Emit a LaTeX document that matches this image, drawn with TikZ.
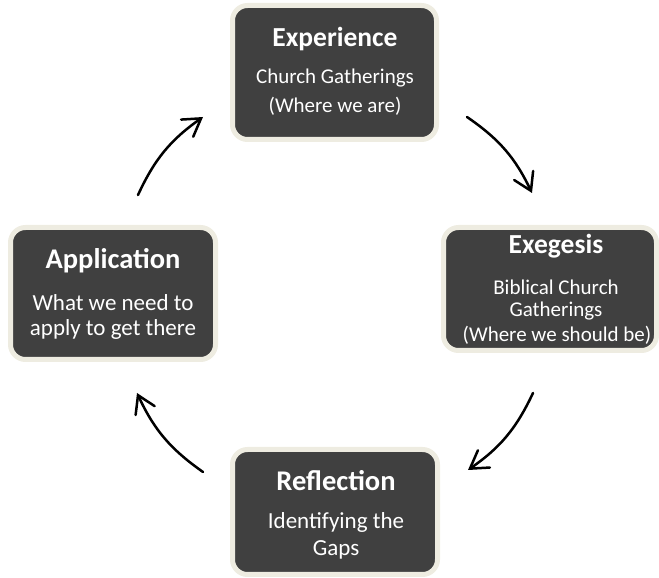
\documentclass[tikz,border=0pt]{standalone}
\usepackage{fontspec}
\setmainfont{Carlito}
\usetikzlibrary{arrows.meta}
\definecolor{boxfill}{HTML}{404040}
\definecolor{boxrim}{HTML}{EEECE1}
\tikzset{
  stage/.style={rectangle, rounded corners=15pt, fill=boxfill, draw=boxrim,
    line width=5pt, inner sep=0pt},
  title/.style={anchor=base, text=white, font=\bfseries\fontsize{#1}{#1}\selectfont},
  sub/.style={anchor=base, text=white, font=\fontsize{#1}{#1}\selectfont},
  cycle/.style={line width=2.5pt, line cap=round,
    -{Straight Barb[length=17pt, width=21pt, line cap=round, line join=miter]}},
}
\begin{document}
\begin{tikzpicture}[x=1pt, y=1pt]
\useasboundingbox (0,0) rectangle (659,578);

% the four stages
\node[stage, minimum width=204pt, minimum height=134pt] (exp) at (334.5,505.5) {};
\node[stage, minimum width=213pt, minimum height=123pt] (exg) at (550,289) {};
\node[stage, minimum width=205pt, minimum height=125pt] (ref) at (335,66) {};
\node[stage, minimum width=205pt, minimum height=132pt] (app) at (113,284.5) {};

% stage texts
\node[title=27.5] (exp-t) at (335,531) {Experience};
\node[sub=21] (exp-a) at (335,494) {Church Gatherings};
\node[sub=21] (exp-b) at (335,465) {(Where we are)};

\node[title=27.5] (exg-t) at (556,324) {Exegesis};
\node[sub=21] (exg-a) at (556,283) {Biblical Church};
\node[sub=21] (exg-b) at (556,261) {Gatherings};
\node[sub=21] (exg-c) at (557,236) {(Where we should be)};

\node[title=28.5] (ref-t) at (336,87) {Reflection};
\node[sub=23] (ref-a) at (336,49) {Identifying the};
\node[sub=23] (ref-b) at (336,22) {Gaps};

\node[title=28.5] (app-t) at (113,309) {Application};
\node[sub=23] (app-a) at (113,267) {What we need to};
\node[sub=23] (app-b) at (113,242) {apply to get there};

% arrow ends around the cycle
\coordinate (c1s) at (467,461);
\coordinate (c1e) at (532,385);
\coordinate (c2s) at (533,185);
\coordinate (c2e) at (468,108);
\coordinate (c3s) at (203,106);
\coordinate (c3e) at (137,185);
\coordinate (c4s) at (138,383);
\coordinate (c4e) at (203,461);

\draw[cycle] (c1s) to[bend left=15] (c1e);
\draw[cycle] (c2s) to[bend left=15] (c2e);
\draw[cycle] (c3s) to[bend left=15] (c3e);
\draw[cycle] (c4s) to[bend left=15] (c4e);
\end{tikzpicture}
\end{document}
